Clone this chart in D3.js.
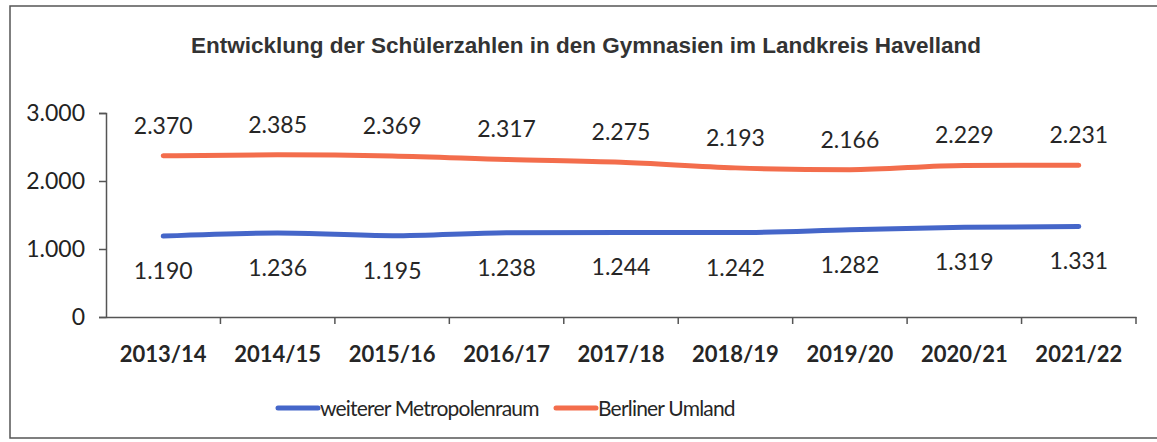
<!DOCTYPE html>
<html lang="de">
<head>
<meta charset="UTF-8">
<title>Schülerzahlen Gymnasien Havelland</title>
<script src="https://d3js.org/d3.v7.min.js"></script>
<style>
  body { margin: 0; background: #fff; }
  text { fill: #262626; }
</style>
</head>
<body>
<script>
const years = ["2013/14", "2014/15", "2015/16", "2016/17", "2017/18", "2018/19", "2019/20", "2020/21", "2021/22"];
const metropolenraum = [1190, 1236, 1195, 1238, 1244, 1242, 1282, 1319, 1331];
const umland = [2370, 2385, 2369, 2317, 2275, 2193, 2166, 2229, 2231];
const yTicks = [0, 1000, 2000, 3000];

const w = 1157;
const h = 442;

const svg = d3.select("body").append("svg")
  .attr("width", w)
  .attr("height", h);

// outer frame
svg.append("rect")
  .attr("x", 10).attr("y", 6)
  .attr("width", w + 10).attr("height", 432)
  .attr("fill", "none")
  .attr("stroke", "#555")
  .attr("stroke-width", 1.5);

svg.append("text")
  .attr("x", 586).attr("y", 53)
  .attr("text-anchor", "middle")
  .style("font-family", "Liberation Sans, Arial, sans-serif")
  .style("font-weight", "bold")
  .style("font-size", "22.5px")
  .style("fill", "#333")
  .text("Entwicklung der Schülerzahlen in den Gymnasien im Landkreis Havelland");

const xScale = d3.scaleBand()
  .domain(years)
  .range([106, 1136]);

const yScale = d3.scaleLinear()
  .domain([0, 3000])
  .range([317, 113]);

const fmt = d3.formatLocale({ decimal: ",", thousands: ".", grouping: [3], currency: ["", "€"] }).format(",");

const labelFont = "Lato, 'Open Sans', sans-serif";

// y axis
const yAxis = svg.append("g")
  .attr("transform", "translate(106,0)")
  .call(d3.axisLeft(yScale).tickValues(yTicks).tickFormat(fmt).tickSize(7).tickPadding(14));
yAxis.select(".domain").attr("stroke", "#555").attr("stroke-width", 1.5);
yAxis.selectAll(".tick line").attr("stroke", "#555").attr("stroke-width", 1.5);
yAxis.selectAll("text")
  .style("font-family", labelFont)
  .style("font-size", "23px")
  .style("fill", "#222");

// x axis with ticks at category boundaries
const xAxis = svg.append("g")
  .attr("transform", "translate(0,317)")
  .call(d3.axisBottom(xScale).tickSize(0).tickPadding(29));
xAxis.select(".domain").attr("stroke", "#555").attr("stroke-width", 1.5);
xAxis.selectAll("text")
  .style("font-family", labelFont)
  .style("font-weight", "bold")
  .style("font-size", "22px")
  .style("fill", "#262626");
xAxis.selectAll(".boundary")
  .data(years)
  .enter()
  .append("line")
  .attr("x1", d => xScale(d) + xScale.bandwidth())
  .attr("x2", d => xScale(d) + xScale.bandwidth())
  .attr("y1", 0).attr("y2", 7)
  .attr("stroke", "#555")
  .attr("stroke-width", 1.5);

const cx = d => xScale(d) + xScale.bandwidth() / 2;

const series = [
  { name: "weiterer Metropolenraum", values: metropolenraum, color: "#4566c9", dy: 43 },
  { name: "Berliner Umland", values: umland, color: "#f36d4c", dy: -22 }
];

const line = d3.line()
  .x((d, i) => cx(years[i]))
  .y(d => yScale(d))
  .curve(d3.curveMonotoneX);

series.forEach(s => {
  svg.append("path")
    .datum(s.values)
    .attr("d", line)
    .attr("fill", "none")
    .attr("stroke", s.color)
    .attr("stroke-width", 5)
    .attr("stroke-linecap", "round");

  svg.selectAll(null)
    .data(s.values)
    .enter()
    .append("text")
    .attr("x", (d, i) => cx(years[i]))
    .attr("y", d => yScale(d) + s.dy)
    .attr("text-anchor", "middle")
    .style("font-family", labelFont)
    .style("font-size", "23px")
    .text(d => fmt(d));
});

// legend
const legend = svg.append("g");
const legendX = [278, 556];
series.forEach((s, i) => {
  legend.append("line")
    .attr("x1", legendX[i]).attr("x2", legendX[i] + 40)
    .attr("y1", 408).attr("y2", 408)
    .attr("stroke", s.color)
    .attr("stroke-width", 5)
    .attr("stroke-linecap", "round");
  legend.append("text")
    .attr("x", legendX[i] + 42).attr("y", 416)
    .style("font-family", labelFont)
    .style("font-size", "21px")
    .style("letter-spacing", "-0.8px")
    .text(s.name);
});
</script>
</body>
</html>
